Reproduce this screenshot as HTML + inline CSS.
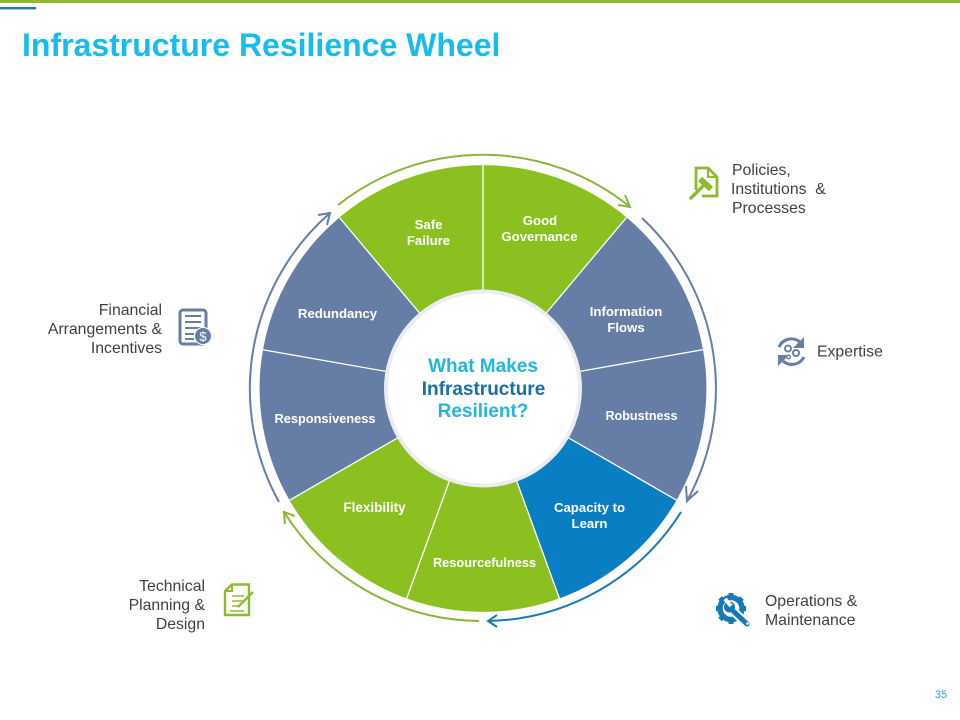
<!DOCTYPE html>
<html><head><meta charset="utf-8"><style>
html,body{margin:0;padding:0;background:#fff;width:960px;height:720px;overflow:hidden}
svg{display:block}
text{font-family:"Liberation Sans",sans-serif}
.s{font-size:13.2px;font-weight:bold;fill:#fff;text-anchor:middle}
.c{font-size:19px;font-weight:bold;text-anchor:middle}
.l{font-size:15.8px;fill:#404040}
.r{text-anchor:end}
</style></head><body>
<svg width="960" height="720" viewBox="0 0 960 720" xmlns="http://www.w3.org/2000/svg">
<rect width="960" height="720" fill="#fff"/>
<rect x="0" y="0" width="960" height="3" fill="#8DBB2F"/>
<rect x="0" y="7" width="36" height="2.4" fill="#1F78B4"/>
<text x="22" y="56" font-size="32" font-weight="bold" fill="#17BCEE">Infrastructure Resilience Wheel</text>

<g stroke="#fff" stroke-width="1.2">
<path d="M483 388.5V164.500A224 224 0 0 1 627 217Z" fill="#8CBF20"/>
<path d="M483 388.500L627 217A224 224 0 0 1 703.600 349.600Z" fill="#667EA5"/>
<path d="M483 388.500L703.600 349.600A224 224 0 0 1 677 500.500Z" fill="#667EA5"/>
<path d="M483 388.500L677 500.500A224 224 0 0 1 559.600 599Z" fill="#0A7EC3"/>
<path d="M483 388.500L559.600 599A224 224 0 0 1 406.400 599Z" fill="#8CBF20"/>
<path d="M483 388.500L406.400 599A224 224 0 0 1 289 500.500Z" fill="#8CBF20"/>
<path d="M483 388.500L289 500.500A224 224 0 0 1 262.400 349.600Z" fill="#667EA5"/>
<path d="M483 388.500L262.400 349.600A224 224 0 0 1 339 217Z" fill="#667EA5"/>
<path d="M483 388.500L339 217A224 224 0 0 1 483 164.500Z" fill="#8CBF20"/>
</g>
<circle cx="483" cy="388.500" r="97" fill="#fff" stroke="#EBEDF0" stroke-width="4"/>

<g fill="none" stroke-width="2">
<path d="M338 205A233.500 233.500 0 0 1 630 207" stroke="#8DB53A"/>
<path d="M618 205L630 207L625 195" stroke="#8DB53A"/>
<path d="M642 218A233.500 233.500 0 0 1 687 501" stroke="#667EA5"/>
<path d="M698 491L687 501L686 486" stroke="#667EA5"/>
<path d="M681 512A233.500 233.500 0 0 1 488 621" stroke="#1779B8"/>
<path d="M497 615L488 621L497 627" stroke="#1779B8"/>
<path d="M479 621A233.500 233.500 0 0 1 284 512" stroke="#8DB53A"/>
<path d="M285 524L284 512L295 516" stroke="#8DB53A"/>
<path d="M279 502A233.500 233.500 0 0 1 330 213" stroke="#667EA5"/>
<path d="M318 215L330 213L327 225" stroke="#667EA5"/>
</g>

<text class="s"><tspan x="428.500" y="229">Safe</tspan><tspan x="428.500" y="245">Failure</tspan></text>
<text class="s"><tspan x="540" y="225">Good</tspan><tspan x="539.500" y="241">Governance</tspan></text>
<text class="s"><tspan x="626" y="316">Information</tspan><tspan x="626" y="332">Flows</tspan></text>
<text class="s" x="641.500" y="420" style="font-size:12.600px">Robustness</text>
<text class="s"><tspan x="589.500" y="512">Capacity to</tspan><tspan x="589.500" y="528">Learn</tspan></text>
<text class="s" x="484.500" y="567" style="font-size:12.800px">Resourcefulness</text>
<text class="s" x="374.500" y="512" style="font-size:13.500px">Flexibility</text>
<text class="s" x="325" y="423" style="font-size:12.800px">Responsiveness</text>
<text class="s" x="337.500" y="318">Redundancy</text>

<text class="c" x="483" y="372" fill="#22B5DE">What Makes</text>
<text class="c" x="483.500" y="395" fill="#1A6FA6">Infrastructure</text>
<text class="c" x="483" y="417" fill="#22B5DE">Resilient?</text>

<text class="l"><tspan x="732" y="175">Policies,</tspan><tspan x="731" y="194">Institutions&#160; &amp;</tspan><tspan x="732" y="213">Processes</tspan></text>
<text class="l" x="817" y="356.500">Expertise</text>
<text class="l"><tspan x="765" y="606">Operations &amp;</tspan><tspan x="765" y="625">Maintenance</tspan></text>
<text class="l r"><tspan x="205" y="591">Technical</tspan><tspan x="205" y="610">Planning &amp;</tspan><tspan x="205" y="629">Design</tspan></text>
<text class="l r"><tspan x="162" y="315">Financial</tspan><tspan x="162" y="334">Arrangements &amp;</tspan><tspan x="162" y="353">Incentives</tspan></text>
<text x="941" y="698" font-size="11" fill="#17A9DC" text-anchor="middle">35</text>

<!-- Policies icon -->
<g fill="none" stroke="#8DBB2F">
<path d="M696 190V168H708L717 177V196H702" stroke-width="2.800"/>
<path d="M708 168V177H717" stroke-width="2"/>
<path d="M691 198L703 186" stroke-width="3.400" stroke-linecap="round"/>
<path d="M700 179L711 189" stroke-width="6"/>
</g>
<!-- Expertise icon -->
<g fill="none" stroke="#667EA5" stroke-width="3">
<path d="M779 347A13.500 13.500 0 0 1 800 342"/>
<path d="M804 357A13.500 13.500 0 0 1 783 361"/>
<circle cx="788" cy="348.500" r="3" stroke-width="2"/>
<circle cx="796" cy="353" r="3" stroke-width="2"/>
<circle cx="788.500" cy="357" r="1.800" stroke-width="1.400"/>
</g>
<path d="M804 337V348H793Z" fill="#667EA5"/>
<path d="M778 366V355H789Z" fill="#667EA5"/>
<!-- Operations icon -->
<circle cx="731" cy="608.500" r="11" fill="none" stroke="#1779B8" stroke-width="5.500"/>
<g stroke="#1779B8" stroke-width="5">
<path d="M731 593V598M731 619V624M716 608.500H721M741 608.500H746M720 598L723.500 601.500M738.500 616L742 619.500M742 598L738.500 601.500M723.500 616L720 619.500"/>
</g>
<path d="M731 609L748 625" stroke="#fff" stroke-width="9"/>
<path d="M731 609L747 624" stroke="#1779B8" stroke-width="5" stroke-linecap="round"/>
<circle cx="729.500" cy="607" r="5.500" fill="#1779B8"/>
<path d="M725 599L731 606" stroke="#fff" stroke-width="4"/>
<circle cx="747.500" cy="623.500" r="1.300" fill="#fff"/>
<!-- Technical icon -->
<g fill="none" stroke="#8DBB2F" stroke-width="2.400">
<path d="M225 591L232 584.500H249V615H225Z"/>
<path d="M225 591H232V584.500" stroke-width="2"/>
<path d="M232 596H244M232 601H243M232 606H240M230 611H244" stroke-width="1.600"/>
<path d="M238 607L253 592" stroke-width="2.400"/>
</g>
<!-- Financial icon -->
<g fill="none" stroke="#667EA5">
<rect x="180" y="310" width="26" height="34" rx="3" stroke-width="3"/>
<path d="M185 316H201M185 322H201M185 328H201M185 334H194M185 339H194" stroke-width="2"/>
</g>
<circle cx="203" cy="336" r="8.500" fill="#667EA5" stroke="#fff" stroke-width="1"/>
<text x="203" y="341" font-size="13" fill="#fff" text-anchor="middle">$</text>
</svg>
</body></html>
